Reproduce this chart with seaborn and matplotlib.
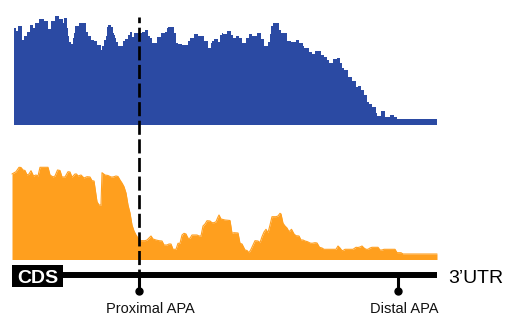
import matplotlib
matplotlib.use("Agg")
import matplotlib.pyplot as plt
from matplotlib.patches import Rectangle
import numpy as np
import pandas as pd
import seaborn as sns

sns.set_theme(style="white")
plt.rcParams["font.family"] = ["Liberation Sans", "DejaVu Sans"]

# ---------------- data ----------------
# upper track (blue): stepwise coverage; bin start positions and heights
blue_start = [14, 16, 18, 22, 24, 27, 30, 33, 35, 39,
              44, 48, 51, 55, 59, 63, 64, 67, 68, 69,
              71, 73, 74, 75, 79, 86, 88, 91, 94, 97,
              101, 102, 104, 106, 107, 108, 111, 113, 114, 115,
              116, 118, 123, 125, 128, 130, 132, 134, 138, 142,
              145, 148, 150, 152, 154, 157, 161, 165, 167, 168,
              174, 176, 178, 182, 188, 190, 194, 198, 204, 208,
              211, 212, 214, 218, 220, 222, 223, 227, 231, 233,
              236, 239, 242, 246, 249, 252, 257, 261, 264, 268,
              270, 271, 273, 277, 279, 281, 287, 291, 296, 299,
              303, 304, 309, 312, 315, 321, 324, 327, 329, 333,
              337, 340, 342, 344, 348, 352, 356, 358, 361, 364,
              367, 369, 372, 376, 377, 381, 385, 388, 390, 394,
              397]
blue_end = 437
blue_cov = [97.3, 94.3, 99, 85.5, 89, 93.3, 100, 97, 102, 106,
            104, 96, 104.3, 109, 105.7, 102.3, 106.7, 97, 89, 83,
            81, 87, 92, 99, 101.7, 93, 89, 85, 84, 80,
            75, 79, 85, 89, 98, 100, 98.3, 92, 90, 87,
            83.3, 79, 84.3, 86, 90, 93, 88.3, 91.7, 92, 93.3,
            95, 89, 87, 82, 82.3, 88, 92, 93.3, 97, 97.7,
            92, 82, 81, 80, 84.3, 87, 91, 89, 84, 77,
            82, 84.3, 86, 83.3, 90.5, 92, 91, 94, 90, 87,
            89, 87, 82.3, 87, 91, 89, 92, 86, 79, 83.3,
            91, 99, 101.7, 102.3, 95, 92.3, 84, 83.3, 85, 82,
            79, 77, 73, 71, 74, 70, 68, 65, 62.3, 66,
            67, 62, 57, 55, 48, 44.3, 38.3, 39, 35, 30,
            23.3, 21, 18.3, 12.3, 9, 14, 8.3, 8, 10, 8,
            6]

# lower track (orange): coverage profile
orange_pos = [12, 16, 19, 21, 23, 25, 27, 29, 31, 33.5,
              36, 38, 40, 48, 50, 53, 55, 57.5, 60, 62,
              65, 68, 70, 72, 75, 76.5, 78, 81, 84, 87,
              90, 92, 94, 96, 97, 99, 101, 102, 105, 108,
              111, 113, 116, 118, 120, 122, 124, 126, 128, 130,
              132, 134, 136, 138, 141, 145, 147, 151, 153, 156,
              159, 162, 164, 167, 169, 171, 173, 176, 178, 180,
              182, 184, 186, 188, 190, 192, 197, 199, 201, 203,
              205, 207, 210, 212, 214, 216, 218, 219, 221, 225,
              230, 232, 234, 238, 240, 242, 245, 247, 249, 251,
              253, 255, 258, 260, 262, 264, 266, 268, 270, 272,
              276, 278, 280, 281, 283, 285, 287, 289, 291.5, 294,
              296, 299, 301, 303, 305, 307.5, 310, 312, 315, 317,
              319.5, 322, 324, 336, 338, 340, 342, 344, 345, 353,
              356, 358, 360, 362, 364, 366, 368, 370, 372, 378,
              380, 382, 384, 395, 397, 401, 403, 437]
orange_cov = [85.5, 87.8, 92.2, 92, 89.5, 89, 84.5, 85.5, 88.8, 83.5,
              84.5, 83.5, 92.2, 92.2, 84.5, 82.5, 83.5, 89.5, 89, 82.5,
              82.5, 87.8, 87.5, 82.2, 85.5, 85.5, 83.5, 84.5, 81.5, 82.8,
              82.5, 78.8, 78.5, 64.5, 57.8, 54.5, 54.5, 86.8, 84.5, 84,
              82.5, 82.5, 83.5, 83, 79.5, 76.5, 72.8, 66.5, 54.5, 46.5,
              34.5, 28.5, 24.5, 21.5, 18.8, 18.8, 19.5, 23.5, 20.5, 19.5,
              18.8, 18.5, 14.5, 14.5, 15.5, 15.5, 10.2, 10.2, 16.2, 16.2,
              24.5, 26.2, 25.5, 21.2, 21.2, 24.5, 24.5, 23.5, 23.5, 33.5,
              35.5, 38.8, 38.5, 36.8, 36.8, 37.8, 42.5, 44.5, 40.5, 39.5,
              39, 26.2, 26.8, 26.5, 16.2, 15.5, 9.5, 9, 6.8, 10.2,
              14.5, 18.8, 18.5, 16.8, 22.8, 27.5, 30.2, 26.8, 34.5, 42.8,
              42.8, 43.5, 46.2, 45.5, 36.2, 33.5, 31.5, 27.8, 30.2, 25.5,
              23.8, 23.5, 19.5, 19.5, 18.5, 17.8, 16.5, 16.2, 16.8, 16.5,
              12.2, 11.5, 10.2, 10.2, 13.5, 11.5, 8.8, 9.5, 10.2, 10.2,
              12.2, 12, 12.5, 13.5, 11.5, 10.2, 10.2, 11.5, 12.2, 12.2,
              9.5, 9.5, 10.2, 10.2, 6.8, 6.8, 5.5, 5.5]

# gene model annotations
apa_labels = ["Proximal APA", "Distal APA"]
apa_pos = [139, 397.5]
apa_label_pos = [150.7, 404.3]
cds_label = "CDS"
utr_label = "3\u2019UTR"

BLUE = "#2B4AA3"
ORANGE = "#FF9F1E"

# ---------------- figure ----------------
W, H = 517, 326
fig = plt.figure(figsize=(W / 100, H / 100), dpi=100)

# blue track: baseline at y=125 px, top at 0
ax_b = fig.add_axes([0, (H - 125) / H, 1, 125 / H])
edges = blue_start + [blue_end]
mids = [(a + b) / 2 for a, b in zip(edges[:-1], edges[1:])]
dfb = pd.DataFrame({"pos": mids, "cov": blue_cov})
sns.histplot(data=dfb, x="pos", weights="cov", bins=edges, element="step",
             fill=True, color=BLUE, alpha=1, linewidth=0, ax=ax_b)
ax_b.set_xlim(0, W)
ax_b.set_ylim(0, 125)
ax_b.axis("off")

# orange track: baseline at y=259.5 px
ax_o = fig.add_axes([0, (H - 259.5) / H, 1, (259.5 - 130) / H])
dfo = pd.DataFrame({"pos": orange_pos, "cov": orange_cov})
sns.lineplot(data=dfo, x="pos", y="cov", color=ORANGE, lw=0.8, ax=ax_o)
ax_o.fill_between(dfo["pos"], 0, dfo["cov"], color=ORANGE, lw=0)
ax_o.set_xlim(0, W)
ax_o.set_ylim(0, 129.5)
ax_o.axis("off")

# annotation layer
ax_a = fig.add_axes([0, 0, 1, 1], zorder=5)
ax_a.set_xlim(0, W)
ax_a.set_ylim(H, 0)
ax_a.patch.set_alpha(0)
ax_a.axis("off")

# dashed line at proximal APA
ax_a.plot([apa_pos[0], apa_pos[0]], [16.7, 273], color="black", lw=1.95,
          linestyle=(3.1, (5.2, 1.67)))
# 3'UTR axis line
ax_a.plot([63, 437], [275, 275], color="black", lw=4.3, solid_capstyle="butt")
# CDS box
ax_a.add_patch(Rectangle((12, 265), 51, 22, color="black", lw=0))
ax_a.text(37.5, 283.3, cds_label, color="white", fontsize=14, fontweight="bold",
          ha="center", va="baseline")
ax_a.text(448, 283.3, utr_label, color="black", fontsize=14,
          ha="left", va="baseline")

for p, lp, lab in zip(apa_pos, apa_label_pos, apa_labels):
    ax_a.plot([p, p], [275, 290.5], color="black", lw=2.2, solid_capstyle="butt")
    ax_a.plot([p], [290.5], marker="o", markersize=5, color="black")
    ax_a.text(lp, 312.7, lab, fontsize=10.5, color="#111111",
              ha="center", va="baseline")

fig.savefig("out.png", dpi=100)
